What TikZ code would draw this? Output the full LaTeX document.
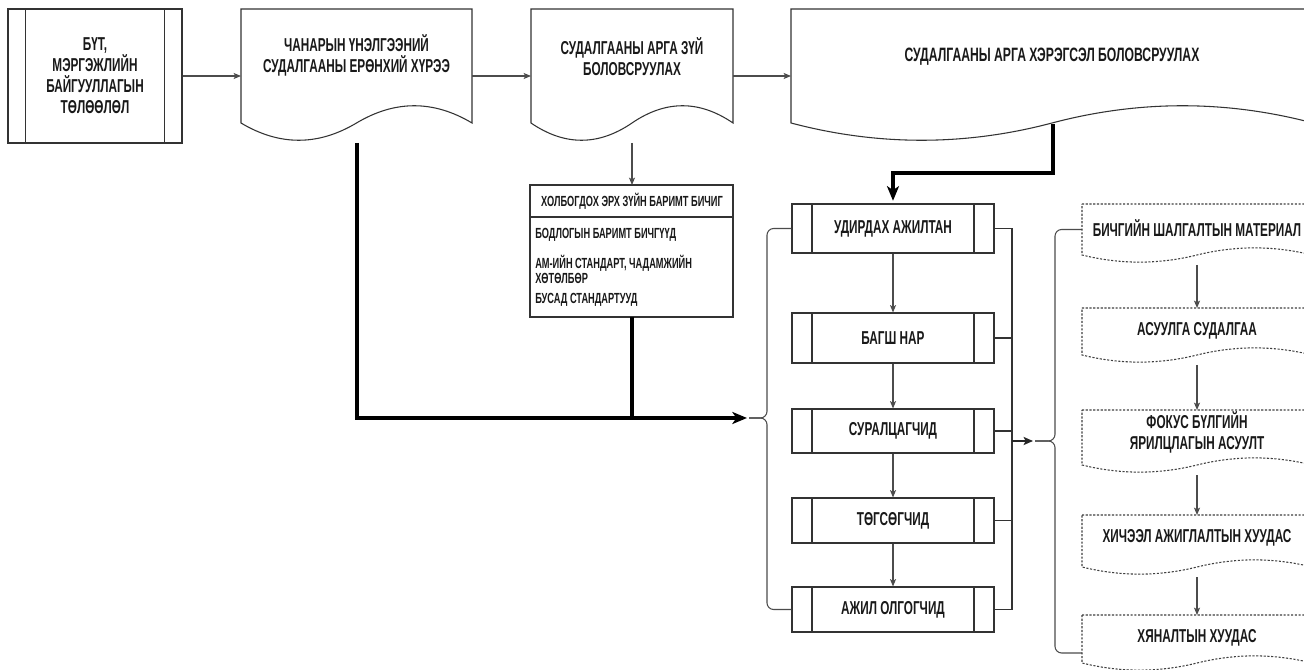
\documentclass[tikz,border=0pt]{standalone}
\usepackage{fontspec}
\setmainfont{Liberation Sans}
\newfontfamily\nfont[FakeStretch=0.63]{Liberation Sans}
\usetikzlibrary{arrows.meta}
\newcommand\mydocshape[6]{%
  \draw[#6] (#1,#2) -- (#3,#2) -- (#3,#4)
   .. controls ({#3-(#3-#1)/6},{#4-#5}) and ({(#1+#3)/2+(#3-#1)/6},{#4-#5}) .. ({(#1+#3)/2},#4)
   .. controls ({(#1+#3)/2-(#3-#1)/6},{#4+#5}) and ({#1+(#3-#1)/6},{#4+#5}) .. (#1,#4) -- cycle;}
\tikzset{
 lbl/.style={font=\nfont\bfseries\fontsize{14}{15.75}\selectfont, align=center, inner sep=0pt, text=black!90},
 small/.style={font=\nfont\bfseries\fontsize{11}{11.5}\selectfont, inner sep=0pt, align=left, text=black!90},
 edge/.style={draw=black!80, line width=0.8pt},
 dashedge/.style={draw=black!75, line width=0.8pt, dash pattern=on 1.6pt off 1.2pt},
 conn/.style={draw=black!70, line width=0.9pt, -{Stealth[length=5.5pt,width=4.5pt,inset=1.2pt]}},
 heavy/.style={draw=black, line width=2.3pt},
 heavyarrow/.style={heavy, -{Stealth[length=11pt,width=9pt,inset=3pt]}},
 brace/.style={draw=black!70, line width=0.8pt, rounded corners=5pt},
 innerlines/.style={path picture={\draw[black!80,line width=0.8pt]
   ([xshift=#1]path picture bounding box.north west) -- ([xshift=#1]path picture bounding box.south west)
   ([xshift=-#1]path picture bounding box.north east) -- ([xshift=-#1]path picture bounding box.south east);}},
 pproc/.style={draw=black!80, line width=0.8pt, minimum width=151.5pt, minimum height=#1, inner sep=0pt, lbl, innerlines=15pt},
}
\begin{document}
\begin{tikzpicture}[x=0.75pt,y=-0.75pt]
\useasboundingbox (0,0) rectangle (1304,670);
\fill[white] (0,0) rectangle (1304,670);
\clip (0,0) rectangle (1304,670);

% ---- top row ----
\node[draw=black!80, line width=0.8pt, minimum width=130.5pt, minimum height=100.5pt, inner sep=0pt, lbl, innerlines=13pt] (b1) at (95,76) {БҮТ,\\МЭРГЭЖЛИЙН\\БАЙГУУЛЛАГЫН\\ТӨЛӨӨЛӨЛ};

\mydocshape{241}{9}{472}{123}{23}{edge}
\node[lbl] (t2) at (356.5,55.5) {ЧАНАРЫН ҮНЭЛГЭЭНИЙ\\СУДАЛГААНЫ ЕРӨНХИЙ ХҮРЭЭ};
\mydocshape{531}{9}{733}{123}{23}{edge}
\node[lbl] (t3) at (632,57) {СУДАЛГААНЫ АРГА ЗҮЙ\\БОЛОВСРУУЛАХ};
\mydocshape{791}{9}{1313}{123}{23}{edge}
\node[lbl, font=\nfont\bfseries\fontsize{14.5}{15.75}\selectfont] (t4) at (1052,57) {СУДАЛГААНЫ АРГА ХЭРЭГСЭЛ БОЛОВСРУУЛАХ};

\coordinate (d2w) at (241,76);
\coordinate (d2e) at (472,76);
\coordinate (d3w) at (531,76);
\coordinate (d3e) at (733,76);
\coordinate (d4w) at (791,76);
\draw[conn] (b1.east) -- (d2w);
\draw[conn] (d2e) -- (d3w);
\draw[conn] (d3e) -- (d4w);

% ---- table ----
\draw[edge] (530,185) rectangle (733,317);
\draw[edge] (530,217) -- (733,217);
\node[small] (th) at (632,201) {ХОЛБОГДОХ ЭРХ ЗҮЙН БАРИМТ БИЧИГ};
\node[small, anchor=west] (ti1) at (535,235) {БОДЛОГЫН БАРИМТ БИЧГҮҮД};
\node[small, anchor=west] (ti2) at (535,269.5) {АМ-ИЙН СТАНДАРТ, ЧАДАМЖИЙН\\ХӨТӨЛБӨР};
\node[small, anchor=west] (ti3) at (535,300) {БУСАД СТАНДАРТУУД};
\coordinate (d3b) at (632,143);
\coordinate (tabt) at (632,185);
\draw[conn] (d3b) -- (tabt);

% ---- thick collector ----
\coordinate (d2b) at (357,143);
\coordinate (a1) at (747,418);
\coordinate (tabb) at (632,317);
\draw[heavyarrow] (d2b) |- (a1);
\draw[heavy] (tabb) -- (tabb |- a1);

% ---- process boxes ----
\node[pproc=36.75pt] (p1) at (893,228.5) {УДИРДАХ АЖИЛТАН};
\node[pproc=37.5pt] (p2) at (893,338) {БАГШ НАР};
\node[pproc=33pt] (p3) at (893,431) {СУРАЛЦАГЧИД};
\node[pproc=33.75pt] (p4) at (893,520.5) {ТӨГСӨГЧИД};
\node[pproc=33.75pt] (p5) at (893,609.5) {АЖИЛ ОЛГОГЧИД};
\draw[conn] (p1) -- (p2);
\draw[conn] (p2) -- (p3);
\draw[conn] (p3) -- (p4);
\draw[conn] (p4) -- (p5);

\coordinate (d4b) at (1053,124);
\coordinate (d4k) at (1053,173);
\draw[heavyarrow] (d4b) -- (d4k) -| ([yshift=2pt]p1.north);

% brace 1
\coordinate (br1) at (749,418);
\coordinate (br1m) at (767,418);
\draw[brace] (p1.west) -| (br1m) -- (br1);
\draw[brace] (p5.west) -| (br1m) -- (br1);

% right collector
\coordinate (rj) at (1012,0);
\draw[edge] (p1.east) -| (rj |- p5.east) -- (p5.east);
\draw[edge] (p2.east) -- (p2.east -| rj);
\draw[edge] (p3.east) -- (p3.east -| rj);
\draw[edge] (p4.east) -- (p4.east -| rj);
\coordinate (a2s) at (1012,441);
\coordinate (a2e) at (1033,441);
\draw[draw=black!85, line width=1.5pt, -{Stealth[length=7pt,width=6pt,inset=1.5pt]}] (a2s) -- (a2e);

% brace 2
\coordinate (br2) at (1035,441);
\coordinate (br2m) at (1055,441);
\coordinate (rd1w) at (1082,229.5);
\coordinate (rd5w) at (1082,653);
\draw[brace] (rd1w) -| (br2m) -- (br2);
\draw[brace] (rd5w) -| (br2m) -- (br2);

% ---- right dashed documents ----
\mydocshape{1082}{204}{1312}{255}{9.5}{dashedge}
\node[lbl] (r1) at (1197,228) {БИЧГИЙН ШАЛГАЛТЫН МАТЕРИАЛ};
\mydocshape{1082}{308}{1312}{355}{9.5}{dashedge}
\node[lbl] (r2) at (1197,331) {АСУУЛГА СУДАЛГАА};
\mydocshape{1082}{410}{1312}{465}{9.5}{dashedge}
\node[lbl] (r3) at (1197,432) {ФОКУС БҮЛГИЙН\\ЯРИЛЦЛАГЫН АСУУЛТ};
\mydocshape{1082}{515}{1312}{567}{9.5}{dashedge}
\node[lbl] (r4) at (1197,538) {ХИЧЭЭЛ АЖИГЛАЛТЫН ХУУДАС};
\mydocshape{1082}{615}{1312}{663}{9.5}{dashedge}
\node[lbl] (r5) at (1197,638) {ХЯНАЛТЫН ХУУДАС};

\coordinate (rd1b) at (1197,265);
\coordinate (rd2t) at (1197,308);
\coordinate (rd2b) at (1197,365);
\coordinate (rd3t) at (1197,410);
\coordinate (rd3b) at (1197,475);
\coordinate (rd4t) at (1197,515);
\coordinate (rd4b) at (1197,577);
\coordinate (rd5t) at (1197,615);
\draw[conn] (rd1b) -- (rd2t);
\draw[conn] (rd2b) -- (rd3t);
\draw[conn] (rd3b) -- (rd4t);
\draw[conn] (rd4b) -- (rd5t);
\end{tikzpicture}
\end{document}
